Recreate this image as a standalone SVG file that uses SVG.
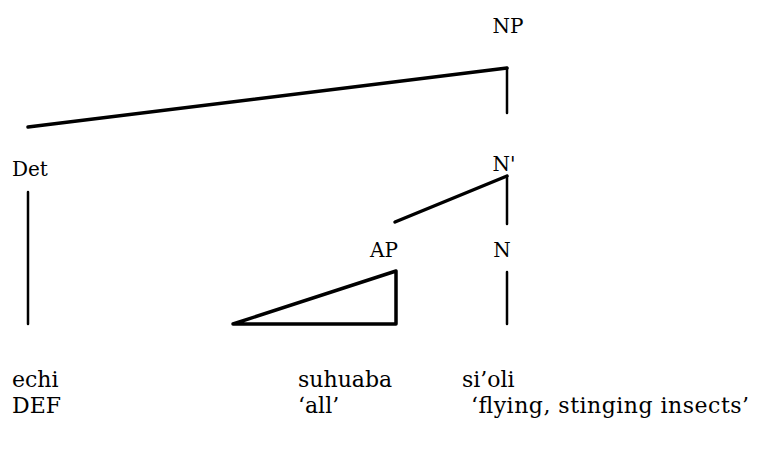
<svg xmlns="http://www.w3.org/2000/svg" width="759" height="455" viewBox="0 0 759 455">
<style>
text{font-family:"DejaVu Serif","Liberation Serif",serif;font-size:22px;fill:#000}
.lbl{font-size:20px}
.e{stroke:#000;stroke-width:3.5;fill:none;stroke-linecap:round;stroke-linejoin:round}
.t{stroke:#000;stroke-width:2.5;fill:none;stroke-linecap:round}
</style>
<rect width="759" height="455" fill="#fff"/>
<g id="connectors">
<line class="e" x1="28" y1="127" x2="507" y2="68"/>
<line class="t" x1="507" y1="68" x2="507" y2="113"/>
<line class="t" x1="28" y1="192" x2="28" y2="324"/>
<line class="e" x1="395" y1="222" x2="507" y2="176"/>
<line class="t" x1="507" y1="176" x2="507" y2="224"/>
<line class="t" x1="507" y1="272" x2="507" y2="324"/>
</g>
<g id="node-NP"><text class="lbl" x="508" y="33" text-anchor="middle">NP</text></g>
<g id="node-Det"><text class="lbl" x="12" y="176">Det</text></g>
<g id="node-Nbar"><text class="lbl" x="504" y="171" text-anchor="middle">N'</text></g>
<g id="node-AP"><text class="lbl" x="398" y="257" text-anchor="end">AP</text>
<polygon class="e" points="233,324 396,271 396,324"/></g>
<g id="node-N"><text class="lbl" x="502" y="257" text-anchor="middle">N</text></g>
<g id="words">
<text x="12" y="387">echi</text>
<text x="12" y="413">DEF</text>
<text x="298" y="387">suhuaba</text>
<text x="298" y="413">‘all’</text>
<text x="462" y="387">si’oli</text>
<text x="471" y="413" textLength="278" lengthAdjust="spacing">‘flying, stinging insects’</text>
</g>
</svg>
